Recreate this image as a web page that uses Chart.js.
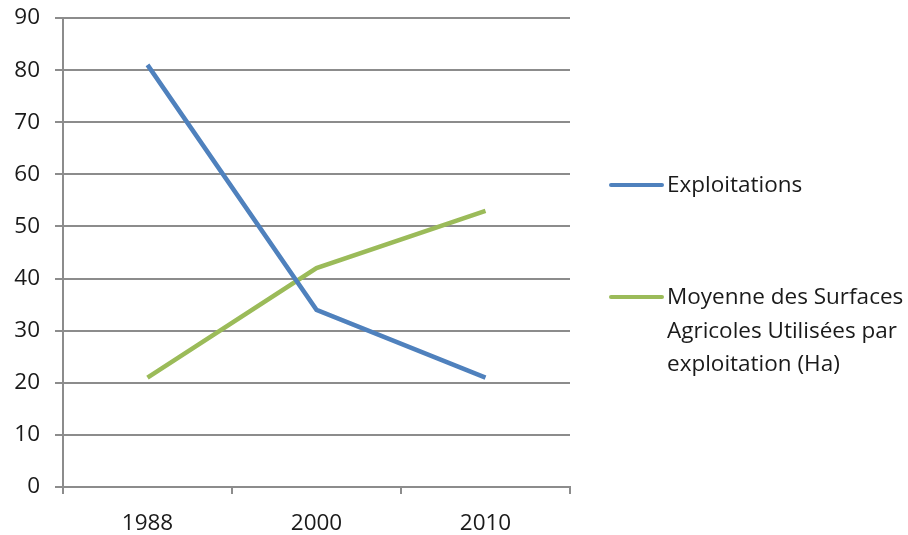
<!DOCTYPE html>
<html>
<head>
<meta charset="utf-8">
<script src="https://cdn.jsdelivr.net/npm/chart.js@4/dist/chart.umd.min.js"></script>
<style>
  html, body { margin: 0; padding: 0; background: #fff; }
  #wrap { width: 908px; height: 535px; }
</style>
</head>
<body>
<div id="wrap"><canvas id="chart" width="908" height="535"></canvas></div>
<script>
const years = ['1988', '2000', '2010'];
const exploitations = [81, 34, 21];
const surfaceMoyenne = [21, 42, 53];
const seriesLabels = ['Exploitations', 'Moyenne des Surfaces Agricoles Utilisées par exploitation (Ha)'];
const seriesColors = ['#4f81bd', '#9bbb59'];

const FONT = '"Open Sans", Lato, sans-serif';
const FONT_SIZE = 22.5;
const textColor = '#1a1a1a';
const gridColor = '#8c8c8c';

// legend drawn on the right, labels wrapped over several lines
const sideLegend = {
    id: 'sideLegend',
    afterDraw(chart) {
        const ctx = chart.ctx;
        const rows = [185, 297];
        ctx.save();
        ctx.font = FONT_SIZE + 'px ' + FONT;
        ctx.textBaseline = 'middle';
        chart.data.datasets.forEach((ds, i) => {
            const y = rows[i];
            ctx.strokeStyle = ds.borderColor;
            ctx.lineWidth = 4;
            ctx.lineCap = 'round';
            ctx.beginPath();
            ctx.moveTo(611, y);
            ctx.lineTo(662, y);
            ctx.stroke();

            const words = ds.label.split(' ');
            const lines = [];
            let cur = '';
            words.forEach(w => {
                const test = cur ? cur + ' ' + w : w;
                if (ctx.measureText(test).width > 242 && cur) {
                    lines.push(cur);
                    cur = w;
                } else {
                    cur = test;
                }
            });
            lines.push(cur);
            ctx.fillStyle = textColor;
            lines.forEach((line, j) => ctx.fillText(line, 667, y + 1 + j * 33.5));
        });
        ctx.restore();
    }
};

new Chart(document.querySelector('#chart').getContext('2d'), {
    type: 'line',
    data: {
        labels: years,
        datasets: [
            {
                label: seriesLabels[0],
                data: exploitations,
                borderColor: seriesColors[0],
                borderWidth: 4.5,
                pointRadius: 0,
                tension: 0
            },
            {
                label: seriesLabels[1],
                data: surfaceMoyenne,
                borderColor: seriesColors[1],
                borderWidth: 4.5,
                pointRadius: 0,
                tension: 0
            }
        ]
    },
    options: {
        responsive: false,
        animation: false,
        layout: { padding: { top: 18, right: 338, left: 0, bottom: 0 } },
        plugins: {
            legend: { display: false },
            tooltip: { enabled: false }
        },
        scales: {
            x: {
                offset: true,
                grid: {
                    offset: true,
                    drawOnChartArea: false,
                    color: gridColor,
                    lineWidth: 2,
                    tickLength: 7
                },
                border: { color: gridColor, width: 2 },
                ticks: {
                    color: textColor,
                    font: { family: FONT, size: FONT_SIZE },
                    padding: 16
                },
                afterFit(scale) {
                    scale.height = 48;
                    scale.paddingLeft = 0;
                    scale.paddingRight = 0;
                }
            },
            y: {
                min: 0,
                max: 90,
                ticks: {
                    stepSize: 10,
                    color: textColor,
                    font: { family: FONT, size: FONT_SIZE },
                    padding: 15
                },
                grid: {
                    color: gridColor,
                    lineWidth: 2,
                    tickLength: 8
                },
                border: { color: gridColor, width: 2 },
                afterFit(scale) {
                    scale.width = 63;
                    scale.paddingTop = 0;
                    scale.paddingBottom = 0;
                }
            }
        }
    },
    plugins: [sideLegend]
});
</script>
</body>
</html>
